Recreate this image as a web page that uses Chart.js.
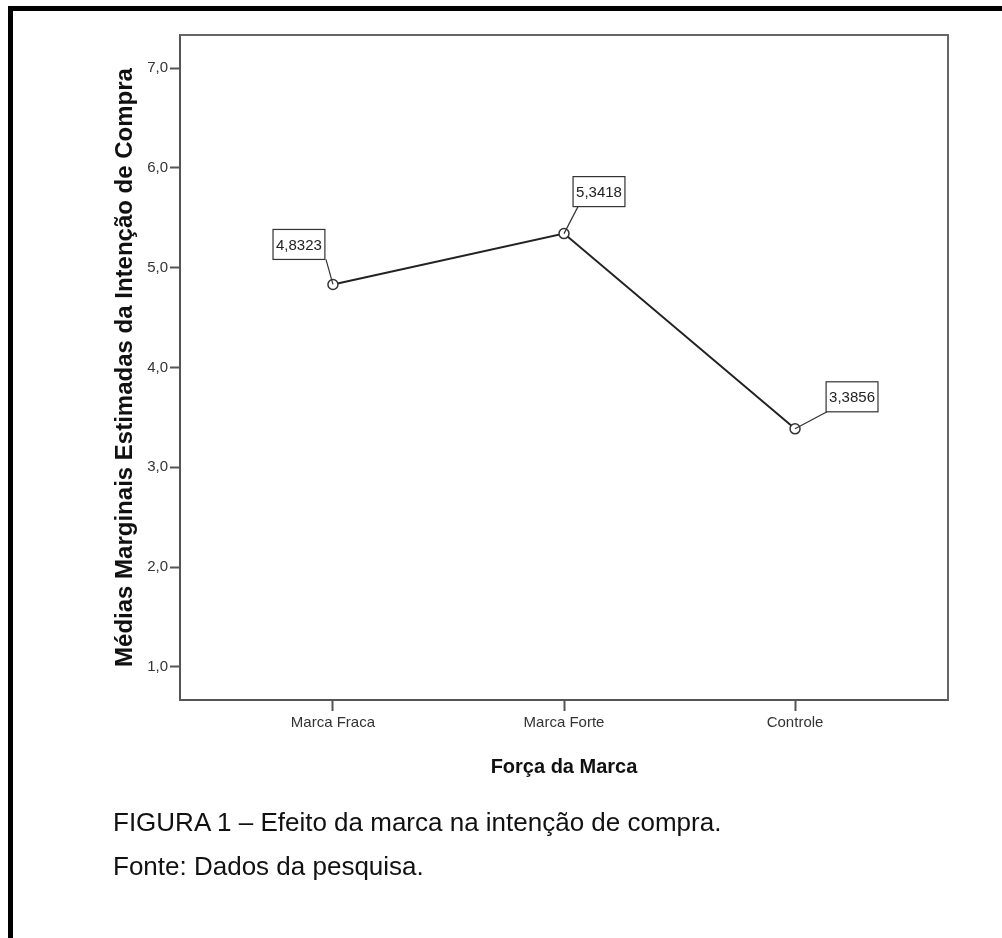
<!DOCTYPE html>
<html>
<head>
<meta charset="utf-8">
<script src="https://cdn.jsdelivr.net/npm/chart.js@4.4.1/dist/chart.umd.min.js"></script>
<style>
  html, body { margin: 0; padding: 0; background: #fff; }
  #wrap { position: relative; width: 1002px; height: 938px; overflow: hidden; }
  #frame { position: absolute; left: 8px; top: 6px; width: 1100px; height: 1100px;
           border-left: 5px solid #000; border-top: 5px solid #000; }
  canvas { position: absolute; left: 0; top: 0; }
  .cap { position: absolute; left: 113px; font-family: "Liberation Sans", Arial, sans-serif;
         font-size: 26px; color: #111; white-space: nowrap; }
</style>
</head>
<body>
<div id="wrap">
  <div id="frame"></div>
  <canvas id="chart" width="1002" height="938"></canvas>
  <div class="cap" style="top:807px">FIGURA 1 – Efeito da marca na intenção de compra.</div>
  <div class="cap" style="top:851px">Fonte: Dados da pesquisa.</div>
</div>
<script>
const categories = ['Marca Fraca', 'Marca Forte', 'Controle'];
const means = [4.8323, 5.3418, 3.3856];
const yTicks = [1, 2, 3, 4, 5, 6, 7];

// where each value box sits relative to its point, and where its leader starts
const boxOffsets = [
  { dx: -34, dy: -40, ax: -7, ay: -25 },
  { dx: 35, dy: -42, ax: 14, ay: -27 },
  { dx: 57, dy: -32, ax: 32, ay: -17 }
];

const narrow = '"Liberation Sans Narrow", "Arial Narrow", "Liberation Sans", sans-serif';
const fmt = v => v.toFixed(1).replace('.', ',');

const frameBox = {
  id: 'frameBox',
  beforeDatasetsDraw(chart) {
    const a = chart.chartArea, ctx = chart.ctx;
    ctx.save();
    ctx.strokeStyle = '#666';
    ctx.lineWidth = 2;
    ctx.beginPath();
    ctx.moveTo(a.left, a.top);
    ctx.lineTo(a.right, a.top);
    ctx.lineTo(a.right, a.bottom);
    ctx.stroke();
    ctx.restore();
  }
};

const valueBoxes = {
  id: 'valueBoxes',
  afterDatasetsDraw(chart) {
    const ctx = chart.ctx;
    const pts = chart.getDatasetMeta(0).data;
    ctx.save();
    ctx.font = '15px ' + narrow;
    ctx.textAlign = 'center';
    ctx.textBaseline = 'middle';
    pts.forEach((p, i) => {
      const o = boxOffsets[i];
      const txt = means[i].toFixed(4).replace('.', ',');
      const w = ctx.measureText(txt).width + 6, h = 30;
      const cx = p.x + o.dx, cy = p.y + o.dy;
      ctx.strokeStyle = '#333';
      ctx.lineWidth = 1.2;
      ctx.beginPath();
      ctx.moveTo(p.x + o.ax, p.y + o.ay);
      ctx.lineTo(p.x, p.y);
      ctx.stroke();
      ctx.fillStyle = '#fff';
      ctx.fillRect(cx - w / 2, cy - h / 2, w, h);
      ctx.strokeRect(cx - w / 2, cy - h / 2, w, h);
      ctx.fillStyle = '#222';
      ctx.fillText(txt, cx, cy + 1);
    });
    ctx.restore();
  }
};

new Chart(document.getElementById('chart'), {
  type: 'line',
  data: {
    datasets: [{
      data: means.map((v, i) => ({ x: i, y: v })),
      borderColor: '#222',
      borderWidth: 2,
      pointRadius: 5,
      pointBorderWidth: 1.5,
      pointBorderColor: '#333',
      pointBackgroundColor: '#fff',
      tension: 0
    }]
  },
  options: {
    responsive: false,
    animation: false,
    layout: { padding: { top: 35, right: 54, left: 0, bottom: 0 } },
    plugins: { legend: { display: false }, tooltip: { enabled: false } },
    scales: {
      x: {
        type: 'linear',
        min: -0.662,
        max: 2.662,
        afterFit(s) { s.height = 238; },
        afterBuildTicks(s) { s.ticks = categories.map((c, i) => ({ value: i })); },
        ticks: {
          callback: (v) => categories[v],
          color: '#333',
          font: { family: narrow, size: 15 },
          padding: 3,
          maxRotation: 0
        },
        grid: { drawOnChartArea: false, tickLength: 11, color: '#555', tickWidth: 2 },
        border: { color: '#555', width: 2 },
        title: {
          display: true,
          text: 'Força da Marca',
          color: '#111',
          font: { family: narrow, size: 20, weight: 'bold' },
          padding: { top: 0, bottom: 159 }
        }
      },
      y: {
        min: 0.668,
        max: 7.332,
        afterFit(s) { s.width = 180; },
        afterBuildTicks(s) { s.ticks = yTicks.map(v => ({ value: v })); },
        ticks: {
          callback: fmt,
          color: '#333',
          font: { family: narrow, size: 15 },
          padding: 2
        },
        grid: { drawOnChartArea: false, tickLength: 10, color: '#555', tickWidth: 2 },
        border: { color: '#555', width: 2 },
        title: {
          display: true,
          text: 'Médias Marginais Estimadas da Intenção de Compra',
          color: '#111',
          font: { family: '"Liberation Sans", Arial, sans-serif', size: 24, weight: 'bold' },
          padding: { top: 111, bottom: 0 }
        }
      }
    }
  },
  plugins: [frameBox, valueBoxes]
});
</script>
</body>
</html>
